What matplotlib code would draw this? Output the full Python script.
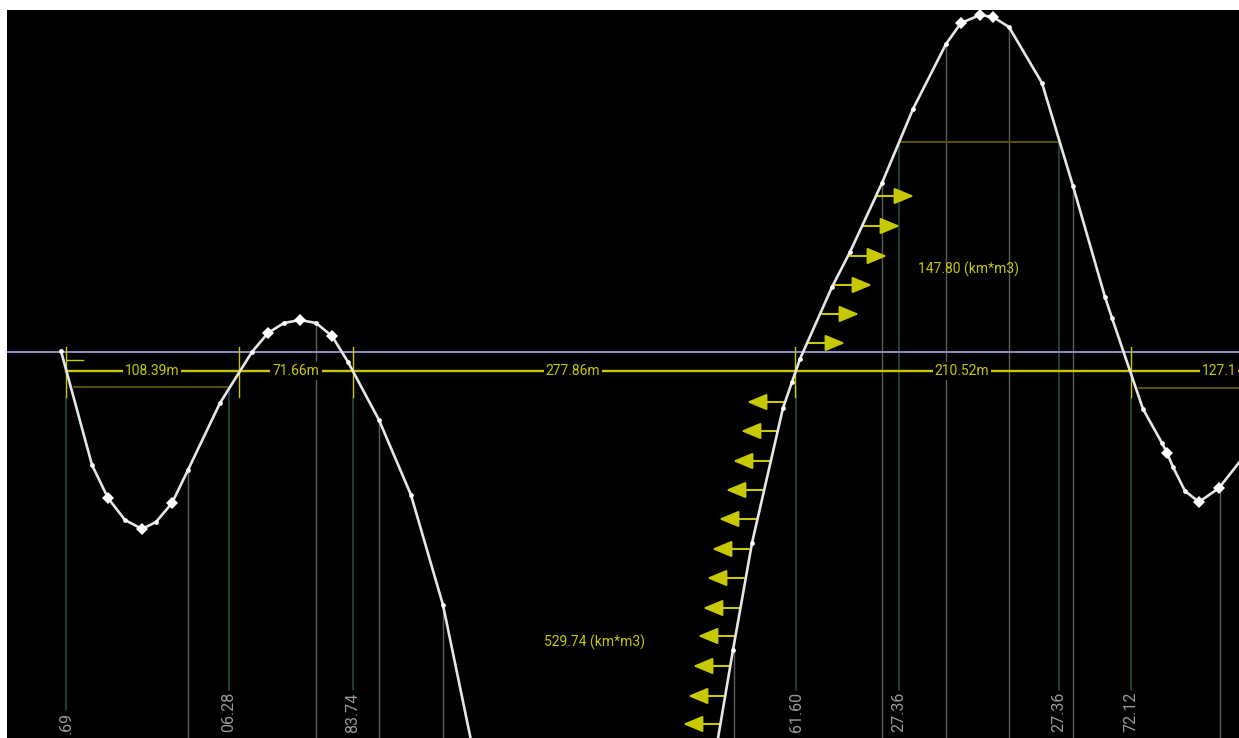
import matplotlib.pyplot as plt

# profile in screen units (x = chainage, y = depth, top down)
c1_x = [61, 92, 108, 125, 142, 156, 172, 188, 220, 252, 268, 284, 300, 316, 332, 348, 379, 411, 443, 473]
c1_y = [351, 465, 498, 520, 529, 522, 503, 470, 403, 352, 333, 323, 320, 323, 336, 362, 420, 495, 605, 750]
c1_dia = [108, 142, 172, 268, 300, 332]

c2_x = [716, 733, 752, 783, 792, 800, 832, 850, 882, 913, 946, 961, 980, 993, 1009, 1042, 1073, 1105, 1112,
        1143, 1162, 1167, 1173, 1185, 1199, 1219, 1245]
c2_y = [750, 650, 543, 408, 382, 359, 287, 252, 183, 109, 44, 23, 15, 17, 27, 83, 186, 297, 318,
        409, 443, 453, 467, 491, 502, 488, 455]
c2_dia = [961, 980, 993, 1167, 1199, 1219]

ref_y = 352      # reference level
dim_y = 371      # dimension line
cross_x = [66, 239, 353, 795, 1131]
dim_labels = ["108.39m", "71.66m", "277.86m", "210.52m", "127.1"]
dim_label_x = [152, 296, 573, 962, 1219]

# station lines
teal_x = [66, 229, 353, 796, 899, 1059, 1131]
teal_top = [397, 392, 398, 387, 142, 142, 398]
teal_bot = [710, 690, 690, 690, 690, 690, 690]
grey_x = [188, 316, 379, 443, 734, 882, 946, 1009, 1073, 1220]
grey_top = [470, 323, 420, 605, 650, 183, 44, 27, 186, 488]
# only the part of each chainage label that shows above the bottom edge
st_labels = [".69", "06.28", "83.74", "61.60", "27.36", "27.36", "72.12"]
st_label_x = [66, 229, 353, 796, 899, 1059, 1131]
st_label_top = [712, 692, 693, 692, 692, 692, 692]

# pressure arrows
right_y = [343, 314, 285, 256, 226, 196]
right_x0 = [808, 822, 835, 850, 863, 877]
left_y = [402, 431, 461, 490, 519, 549, 578, 608, 636, 666, 696, 724]
left_x0 = [784, 778, 770, 763, 756, 749, 744, 740, 735, 730, 725, 720]
arrow_len = 37

volumes = ["147.80 (km*m3)", "529.74 (km*m3)"]
vol_pos = [(968, 269), (594, 642)]

yellow = "#c8c800"
olive = "#5a5a08"
teal = "#1f5050"
grey = "#5c5c5c"

fig = plt.figure(figsize=(12.39, 7.38), dpi=100, facecolor="white")
ax = fig.add_axes([7 / 1239, 0, 1232 / 1239, 728 / 738])
ax.set_facecolor("black")
ax.set_xlim(7, 1239)
ax.set_ylim(738, 10)
ax.axis("off")
ax.add_patch(plt.Rectangle((7, 10), 1232, 728, color="black", zorder=0))

for i in range(len(teal_x)):
    ax.plot([teal_x[i], teal_x[i]], [teal_top[i], teal_bot[i]], color=teal, lw=1.1, zorder=1)
for i in range(len(grey_x)):
    ax.plot([grey_x[i], grey_x[i]], [grey_top[i], 740], color=grey, lw=1.0, zorder=1)

ax.axhline(ref_y, color="#9a9ad2", lw=1.3, zorder=2)
ax.plot([66, 1239], [dim_y, dim_y], color=yellow, lw=1.7, zorder=2)
for x in cross_x:
    ax.plot([x, x], [347, 397], color=yellow, lw=1.0, zorder=2)
ax.plot([67, 83], [360, 360], color=yellow, lw=1.0, zorder=2)
ax.plot([74, 228], [387, 387], color=olive, lw=1.3, zorder=2)
ax.plot([1139, 1239], [388, 388], color=olive, lw=1.3, zorder=2)
ax.plot([900, 1058], [142, 142], color=olive, lw=1.3, zorder=2)

for lab, x in zip(dim_labels, dim_label_x):
    ax.text(x, dim_y, lab, color=yellow, fontsize=10, family="Roboto", ha="center", va="center",
            bbox=dict(facecolor="black", edgecolor="none", pad=1.5), zorder=3)

for lab, (x, y) in zip(volumes, vol_pos):
    ax.text(x, y, lab, color=yellow, fontsize=10, family="Roboto", ha="center", va="center", zorder=3)

for lab, x, y in zip(st_labels, st_label_x, st_label_top):
    ax.text(x, y, lab, color="#9a9a9a", fontsize=11.5, family="Roboto", rotation=90,
            ha="center", va="top", zorder=3)

for y, x0 in zip(right_y, right_x0):
    ax.annotate("", xy=(x0 + arrow_len, y), xytext=(x0, y),
                arrowprops=dict(arrowstyle="-|>,head_length=1.2,head_width=0.5", color=yellow, lw=1.5,
                                shrinkA=0, shrinkB=0), zorder=4)
for y, x0 in zip(left_y, left_x0):
    ax.annotate("", xy=(x0 - arrow_len, y), xytext=(x0, y),
                arrowprops=dict(arrowstyle="-|>,head_length=1.2,head_width=0.5", color=yellow, lw=1.5,
                                shrinkA=0, shrinkB=0), zorder=4)

for cx, cy, dia in [(c1_x, c1_y, c1_dia), (c2_x, c2_y, c2_dia)]:
    ax.plot(cx, cy, color="#e6e6e6", lw=1.9, zorder=5)
    ax.plot(cx, cy, "o", color="white", ms=3.4, mew=0, zorder=6)
    dx = [x for x in cx if x in dia]
    dy = [y for x, y in zip(cx, cy) if x in dia]
    ax.plot(dx, dy, "D", color="white", ms=6.5, mew=0, zorder=6)

fig.savefig("out.png", dpi=100, facecolor="white")
